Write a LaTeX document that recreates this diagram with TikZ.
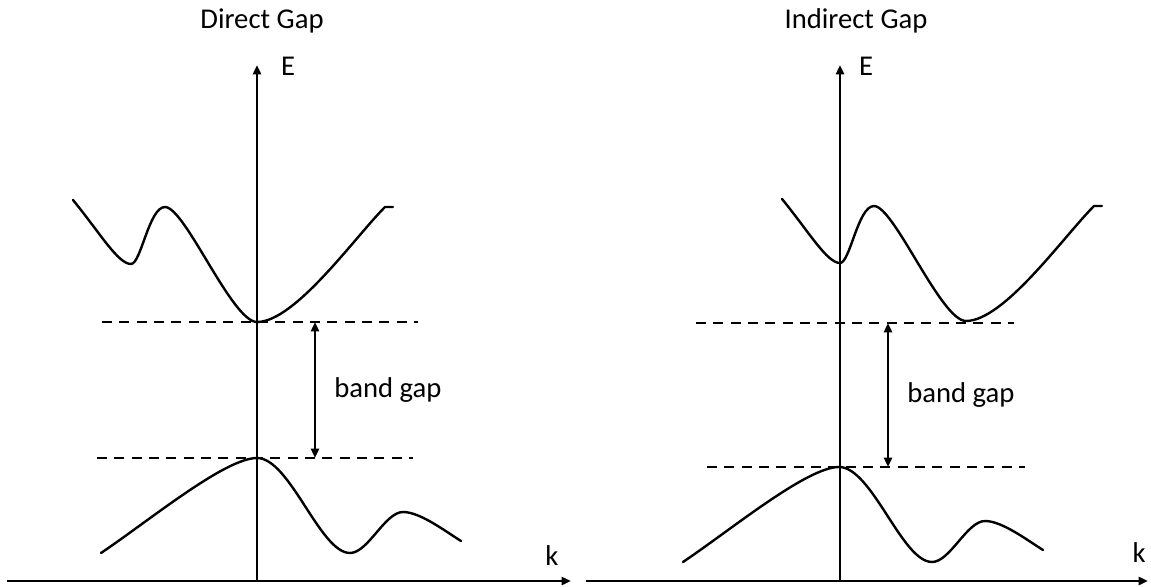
\documentclass[tikz,border=0pt]{standalone}
\usepackage{fontspec}
\setmainfont{Carlito}
\usetikzlibrary{arrows.meta}
\begin{document}
\begin{tikzpicture}[x=0.75pt,y=0.75pt,
  band/.style={line width=1.8pt, line cap=round, line join=round},
  axisline/.style={line width=1.8pt, -{Triangle[length=7pt,width=6pt]}},
  level/.style={line width=1.8pt, dash pattern=on 7.5pt off 5.5pt},
  gaparrow/.style={line width=1.8pt, {Triangle[length=7pt,width=6pt]}-{Triangle[length=7pt,width=6pt]}},
  lbl/.style={font=\fontsize{21.5}{25}\selectfont, inner sep=0pt}]
\useasboundingbox (0,0) rectangle (1151,586);

% ---------- left panel: direct gap ----------
\coordinate (LxS) at (7,5);
\coordinate (LxE) at (571,5);
\coordinate (LyS) at (257,4);
\coordinate (LyE) at (257,521);
\draw[axisline] (LxS) -- (LxE);
\draw[axisline] (LyS) -- (LyE);

\coordinate (LcL) at (102,264);
\coordinate (LcR) at (418,264);
\coordinate (LvL) at (97,128);
\coordinate (LvR) at (413,128);
\draw[level] (LcL) -- (LcR);
\draw[level] (LvL) -- (LvR);

\coordinate (LgT) at (315,264);
\coordinate (LgB) at (315,128);
\draw[gaparrow] (LgT) -- (LgB);

\draw[band] (73,386) .. controls (100,353) and (118,322) .. (131,322)
  .. controls (141,322) and (149,379) .. (165,379)
  .. controls (185,379) and (232,264) .. (257,264)
  .. controls (295,264) and (355,349) .. (385,379) -- (393,379);
\draw[band] (101,33) .. controls (150,66) and (225,128) .. (257,128)
  .. controls (290,128) and (320,33) .. (350,33)
  .. controls (368,33) and (385,74) .. (403,74)
  .. controls (420,74) and (445,55) .. (461,45);

\node[lbl, anchor=base] (tL) at (262,557) {Direct Gap};
\node[lbl, anchor=base] (eL) at (288,510) {E};
\node[lbl, anchor=base] (kL) at (552,21) {k};
\node[lbl, anchor=base west] (bgL) at (334,189) {band gap};

% ---------- right panel: indirect gap ----------
\coordinate (RxS) at (586,5);
\coordinate (RxE) at (1148,5);
\coordinate (RyS) at (840,4);
\coordinate (RyE) at (840,521);
\draw[axisline] (RxS) -- (RxE);
\draw[axisline] (RyS) -- (RyE);

\coordinate (RcL) at (696,263);
\coordinate (RcR) at (1014,263);
\coordinate (RvL) at (707,119);
\coordinate (RvR) at (1025,119);
\draw[level] (RcL) -- (RcR);
\draw[level] (RvL) -- (RvR);

\coordinate (RgT) at (888,263);
\coordinate (RgB) at (888,119);
\draw[gaparrow] (RgT) -- (RgB);

\begin{scope}[shift={(709,1)}]
\draw[band] (73,386) .. controls (100,353) and (118,322) .. (131,322)
  .. controls (141,322) and (149,379) .. (165,379)
  .. controls (185,379) and (232,264) .. (257,264)
  .. controls (295,264) and (355,349) .. (385,379) -- (393,379);
\end{scope}
\begin{scope}[shift={(582,-9)}]
\draw[band] (101,33) .. controls (150,66) and (225,128) .. (257,128)
  .. controls (290,128) and (320,33) .. (350,33)
  .. controls (368,33) and (385,74) .. (403,74)
  .. controls (420,74) and (445,55) .. (461,45);
\end{scope}

\node[lbl, anchor=base] (tR) at (856,557) {Indirect Gap};
\node[lbl, anchor=base] (eR) at (866,510) {E};
\node[lbl, anchor=base] (kR) at (1139,24) {k};
\node[lbl, anchor=base west] (bgR) at (907,184) {band gap};
\end{tikzpicture}
\end{document}
